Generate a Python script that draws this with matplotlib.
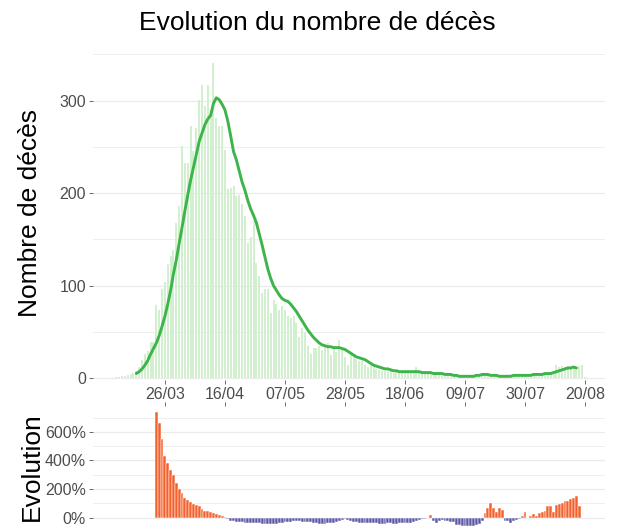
import numpy as np
import pandas as pd
import matplotlib
matplotlib.use("Agg")
import matplotlib.pyplot as plt

plt.rcParams['font.family'] = ['Liberation Sans', 'DejaVu Sans']

# ---------------- data ----------------
deaths_start = "2020-03-09"
deaths = [
    1, 1, 2, 2, 3, 4, 6, 8, 12, 20,
    26, 29, 39, 39, 79, 74, 96, 104, 123, 132,
    138, 168, 186, 251, 233, 233, 272, 245, 270, 301,
    317, 294, 317, 287, 341, 281, 272, 272, 247, 204,
    205, 208, 197, 198, 188, 175, 146, 153, 171, 124,
    110, 92, 96, 96, 70, 85, 80, 74, 78, 74,
    67, 65, 67, 60, 45, 54, 49, 35, 26, 33,
    33, 35, 30, 34, 38, 25, 32, 28, 41, 30,
    23, 14, 27, 23, 21, 19, 19, 14, 12, 14,
    12, 10, 9, 8, 8, 7, 9, 6, 7, 8,
    7, 6, 7, 7, 9, 12, 8, 5, 7, 6,
    7, 5, 4, 6, 4, 5, 3, 4, 3, 2,
    3, 2, 1, 2, 3, 2, 4, 3, 5, 4,
    3, 4, 3, 2, 2, 1, 2, 3, 2, 2,
    4, 3, 3, 2, 4, 3, 4, 5, 4, 5,
    5, 6, 5, 7, 14, 12, 13, 12, 13, 12,
    11, 12, 13, 14, 1,
]

smooth_start = "2020-03-16"
smooth = [
    5, 7, 10, 14, 19, 26, 32, 38, 46, 56,
    67, 80, 95, 113, 128, 146, 163, 181, 198, 214,
    228, 242, 256, 265, 274, 280, 284, 297, 303, 301,
    296, 290, 278, 262, 245, 236, 224, 212, 203, 192,
    183, 176, 168, 156, 144, 131, 118, 108, 100, 95,
    90, 86, 84, 83, 80, 76, 72, 67, 62, 57,
    52, 48, 44, 41, 38, 36, 35, 34, 34, 33,
    33, 33, 32, 31, 29, 27, 25, 23, 22, 21,
    20, 18, 16, 14, 13, 12, 11, 10, 10, 9,
    8, 8, 7, 7, 7, 7, 7, 7, 7, 7,
    6, 6, 6, 6, 5, 5, 5, 5, 4, 4,
    4, 3, 3, 2, 2, 2, 2, 2, 2, 3,
    3, 4, 4, 4, 3, 3, 3, 2, 2, 2,
    2, 2, 3, 3, 3, 3, 3, 3, 3, 4,
    4, 4, 4, 5, 5, 5, 6, 7, 8, 9,
    10, 11, 11, 12, 11,
]

evol_start = "2020-03-23"
evolution = [
    741, 664, 547, 430, 383, 336, 301, 243, 203, 173,
    138, 126, 107, 96, 91, 79, 63, 49, 44, 40,
    33, 26, 19, 12, 5, -9, -20, -25, -28, -30,
    -33, -35, -37, -38, -38, -40, -40, -42, -43, -44,
    -44, -43, -42, -40, -36, -33, -30, -28, -25, -24,
    -25, -27, -28, -30, -33, -37, -40, -42, -42, -42,
    -40, -38, -35, -28, -22, -15, -12, -14, -20, -28,
    -33, -35, -37, -38, -38, -40, -40, -40, -41, -42,
    -42, -40, -40, -41, -42, -40, -38, -36, -38, -35,
    -30, -22, -16, -12, -9, -5, 19, -22, -40, -25,
    -18, -20, -25, -30, -33, -48, -50, -55, -58, -60,
    -58, -55, -52, -45, -20, 33, 70, 100, 70, 40,
    70, 55, -20, -25, -35, -20, -15, -10, 10, 38,
    -2, 15, 25, 10, 35, 40, 50, 85, 80, 40,
    90, 95, 105, 115, 120, 130, 140, 155, 85,
]

tick_dates = ["2020-03-26", "2020-04-16", "2020-05-07", "2020-05-28",
              "2020-06-18", "2020-07-09", "2020-07-30", "2020-08-20"]
tick_labels = ["26/03", "16/04", "07/05", "28/05", "18/06", "09/07", "30/07", "20/08"]

top_yticks = [0, 100, 200, 300]
bot_yticks = [0, 200, 400, 600]
bot_ylabels = ["0%", "200%", "400%", "600%"]

# ---------------- plotting ----------------
d_dates = pd.date_range(deaths_start, periods=len(deaths), freq="D")
s_dates = pd.date_range(smooth_start, periods=len(smooth), freq="D")
e_dates = pd.date_range(evol_start, periods=len(evolution), freq="D")
ticks = pd.to_datetime(tick_dates)

W, H = 617, 528
fig = plt.figure(figsize=(W / 100, H / 100), dpi=100)

def fx(px):
    return px / W

def fy(py):
    return 1 - py / H

grid_c = "#EBEBEB"
txt_c = "#4D4D4D"
tick_fs = 11.5

xmin = pd.Timestamp("2020-02-29 20:00")
xmax = pd.Timestamp("2020-08-27")

# top panel
ax1 = fig.add_axes([fx(93), fy(380), fx(605 - 93), fy(46) - fy(380)])
ax1.bar(d_dates, deaths, width=0.7, color="#D2EFD0", edgecolor="none", zorder=2)
ax1.plot(s_dates, smooth, color="#3DB54A", lw=2.1, zorder=3, solid_capstyle="round")
ax1.set_xlim(xmin, xmax)
ax1.set_ylim(-2, 359)
ax1.set_yticks(top_yticks)
ax1.set_yticks([50, 150, 250, 350], minor=True)
ax1.set_xticks(ticks)
ax1.set_xticklabels(tick_labels)
ax1.grid(axis="y", which="major", color=grid_c, lw=0.9, zorder=0)
ax1.grid(axis="y", which="minor", color=grid_c, lw=0.6, zorder=0)
ax1.tick_params(axis="y", which="minor", length=0)
ax1.tick_params(axis="both", which="major", length=3, color="#555555", width=0.6,
                labelsize=tick_fs, labelcolor=txt_c, pad=2)
for s in ax1.spines.values():
    s.set_visible(False)
ax1.set_ylabel("Nombre de décès", fontsize=19, color="black")
ax1.yaxis.set_label_coords((42 - 93) / 512, 0.5)

# bottom panel
ax2 = fig.add_axes([fx(93), fy(532), fx(605 - 93), fy(406) - fy(532)])
ev = np.array(evolution, dtype=float)
cols = np.where(ev >= 0, "#F3622D", "#5B57A6")
ax2.bar(e_dates, ev, width=1.0, color=cols, edgecolor="white", linewidth=0.35, zorder=2)
ax2.set_xlim(xmin, xmax)
ax2.set_ylim(-100, 781)
ax2.set_yticks(bot_yticks)
ax2.set_yticklabels(bot_ylabels)
ax2.set_yticks([100, 300, 500, 700], minor=True)
ax2.grid(axis="y", which="major", color=grid_c, lw=0.9, zorder=0)
ax2.grid(axis="y", which="minor", color=grid_c, lw=0.6, zorder=0)
ax2.xaxis.tick_top()
ax2.set_xticks(ticks)
ax2.set_xticklabels([])
ax2.tick_params(axis="y", which="minor", length=0)
ax2.tick_params(axis="both", which="major", length=3, color="#555555", width=0.6,
                labelsize=tick_fs, labelcolor=txt_c, pad=2)
for s in ax2.spines.values():
    s.set_visible(False)
ax2.set_ylabel("Evolution", fontsize=19, color="black")
ax2.yaxis.set_label_coords((44 - 93) / 512, 0.5 + (532 - 528) / 2 / 126)

fig.text(fx(317), fy(23), "Evolution du nombre de décès", ha="center", va="center",
         fontsize=19, color="black")

fig.savefig("out.png", dpi=100)
